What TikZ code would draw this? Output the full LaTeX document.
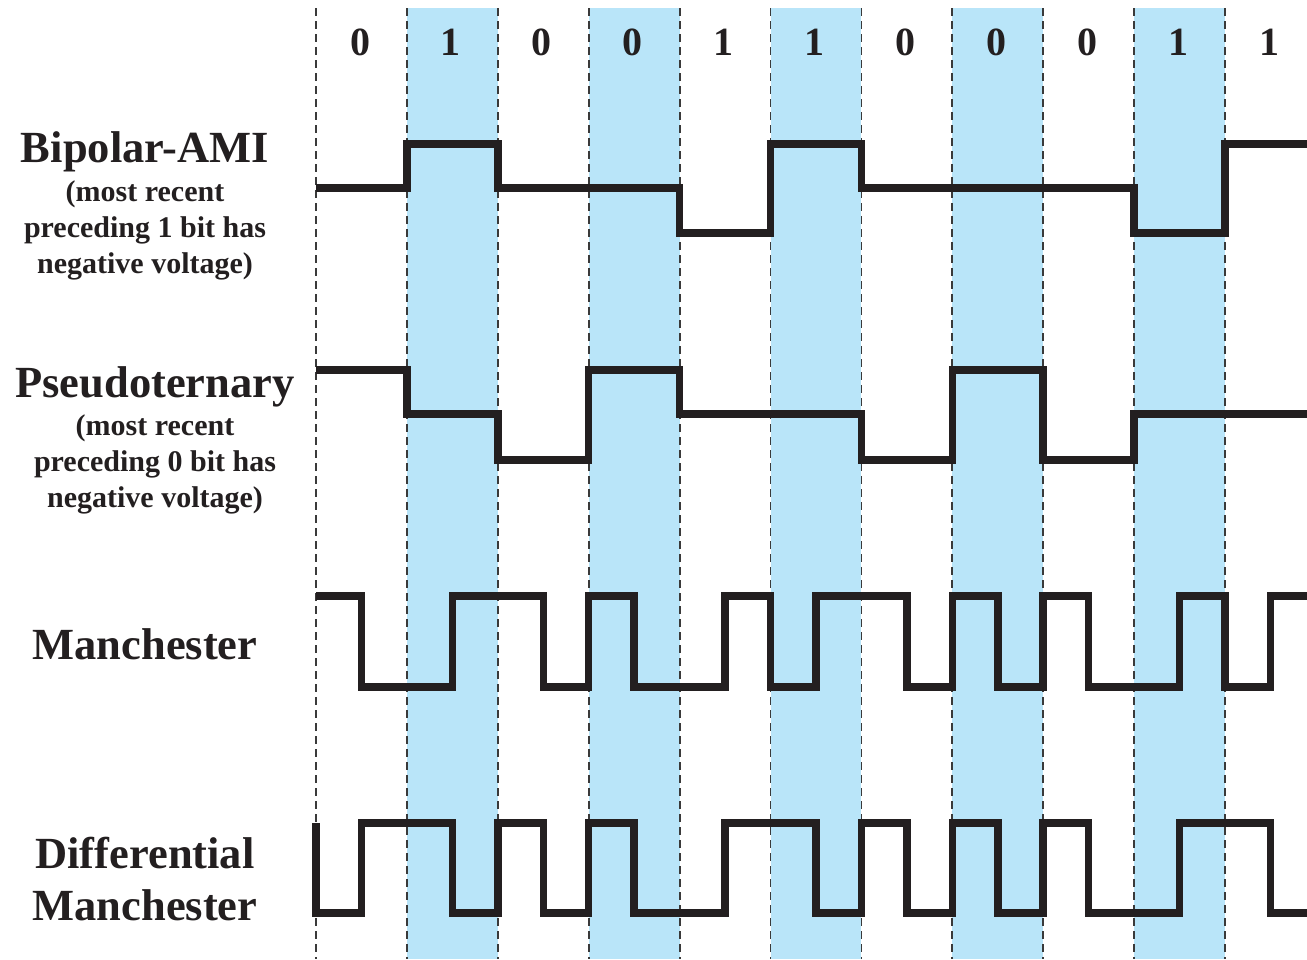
\documentclass[tikz,border=0pt]{standalone}
\usepackage{fontspec}
\setmainfont{Liberation Serif}
\definecolor{bitshade}{HTML}{B9E5F9}
\definecolor{ink}{HTML}{231F20}
\definecolor{gridgray}{HTML}{3A3A3A}
\begin{document}
\begin{tikzpicture}[x=1pt,y=-1pt,
  signal/.style={line width=7.5pt, ink, line join=miter, line cap=butt},
  boundary/.style={line width=1.8pt, gridgray, dash pattern=on 8pt off 5pt},
  title/.style={font=\bfseries\fontsize{44.5}{48}\selectfont, text=ink, anchor=base, inner sep=0pt},
  note/.style={font=\bfseries\fontsize{30}{36}\selectfont, text=ink, anchor=base, inner sep=0pt},
  bitlabel/.style={font=\bfseries\fontsize{40}{44}\selectfont, text=ink, anchor=base, inner sep=0pt}]
  \useasboundingbox (0,0) rectangle (1307,959);

  % shaded bit cells (odd positions)
  \foreach \i in {1,3,5,7,9}
    \fill[bitshade] ({316+90.9*\i},8) rectangle ({316+90.9*(\i+1)},959);

  % bit boundaries
  \foreach \i in {0,...,10}
    \draw[boundary] ({316+90.9*\i},8) -- ({316+90.9*\i},959);

  % bit values
  \foreach \b [count=\i from 0] in {0,1,0,0,1,1,0,0,0,1,1}
    \node[bitlabel] (bit\i) at ({360+90.9*\i},55) {\b};

  % row labels
  \node[title] (ami) at (145,162) {Bipolar-AMI};
  \node[note] (ami1) at (145,201) {(most recent};
  \node[note] (ami2) at (145,237) {preceding 1 bit has};
  \node[note] (ami3) at (145,273) {negative voltage)};

  \node[title] (pst) at (155,397) {Pseudoternary};
  \node[note] (pst1) at (155,435) {(most recent};
  \node[note] (pst2) at (155,471) {preceding 0 bit has};
  \node[note] (pst3) at (155,507) {negative voltage)};

  \node[title] (man) at (145,659) {Manchester};

  \node[title] (dman1) at (145,868) {Differential};
  \node[title] (dman2) at (145,920) {Manchester};

  % waveforms, x measured in half-bit steps from the first boundary
  \begin{scope}[shift={(316,0)}, x=45.45pt]
    \clip (0,0) rectangle (21.8,959);
    % Bipolar-AMI
    \draw[signal] (0,188) -- (2,188) -- (2,144) -- (4,144) -- (4,188) -- (8,188)
      -- (8,233) -- (10,233) -- (10,144) -- (12,144) -- (12,188) -- (18,188)
      -- (18,233) -- (20,233) -- (20,144) -- (22,144);
    % Pseudoternary
    \draw[signal] (0,370) -- (2,370) -- (2,414) -- (4,414) -- (4,460) -- (6,460)
      -- (6,370) -- (8,370) -- (8,414) -- (12,414) -- (12,460) -- (14,460)
      -- (14,370) -- (16,370) -- (16,460) -- (18,460) -- (18,414) -- (22,414);
    % Manchester
    \draw[signal] (0,596) -- (1,596) -- (1,687) -- (3,687) -- (3,596) -- (5,596)
      -- (5,687) -- (6,687) -- (6,596) -- (7,596) -- (7,687) -- (9,687)
      -- (9,596) -- (10,596) -- (10,687) -- (11,687) -- (11,596) -- (13,596)
      -- (13,687) -- (14,687) -- (14,596) -- (15,596) -- (15,687) -- (16,687)
      -- (16,596) -- (17,596) -- (17,687) -- (19,687) -- (19,596) -- (20,596)
      -- (20,687) -- (21,687) -- (21,596) -- (22,596);
  \end{scope}
  \begin{scope}[shift={(316,0)}, x=45.45pt]
    \clip (-0.2,0) rectangle (21.8,959);
    % Differential Manchester
    \draw[signal] (0,823) -- (0,913) -- (1,913) -- (1,823) -- (3,823) -- (3,913)
      -- (4,913) -- (4,823) -- (5,823) -- (5,913) -- (6,913) -- (6,823)
      -- (7,823) -- (7,913) -- (9,913) -- (9,823) -- (11,823) -- (11,913)
      -- (12,913) -- (12,823) -- (13,823) -- (13,913) -- (14,913) -- (14,823)
      -- (15,823) -- (15,913) -- (16,913) -- (16,823) -- (17,823) -- (17,913)
      -- (19,913) -- (19,823) -- (21,823) -- (21,913) -- (22,913);
  \end{scope}
\end{tikzpicture}
\end{document}
